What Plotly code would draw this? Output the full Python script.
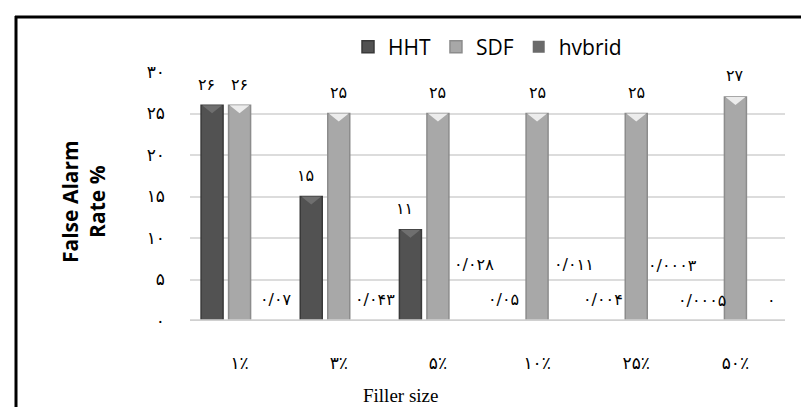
import plotly.graph_objects as go

# ---------------- data ----------------
categories = ["۱٪", "۳٪", "۵٪", "۱۰٪", "۲۵٪", "۵۰٪"]
hht = [26, 15, 11, 0.05, 0.004, 0.0005]
sdf = [26, 25, 25, 25, 25, 27]
hybrid = [0.07, 0.043, 0.028, 0.011, 0.0003, 0]
series_names = ["HHT", "SDF", "hvbrid"]
y_tickvals = [0, 5, 10, 15, 20, 25, 30]

# labels that are lifted to avoid overlap (style only)
hybrid_label_raised = [False, False, True, True, True, False]

# ---------------- helpers ----------------
FA = str.maketrans("0123456789.", "۰۱۲۳۴۵۶۷۸۹/")


def fa(v):
    return f"{v:g}".translate(FA)


W, H = 809, 407
L, R, T, B = 182, 32, 64, 94
PW, PH = W - L - R, H - T - B
Y_MAX = 30


def px_x(p):
    return (p - L) / PW


def px_y(p):
    return (H - B - p) / PH


BARGAP = 0.168
BARGROUPGAP = 0.2
slot = (1 - BARGAP) / 3
offsets = [-slot, 0.0, slot]
bar_w = slot * (1 - BARGROUPGAP)

colors = ["#525252", "#a8a8a8", "#6a6a6a"]
edges = ["#393939", "#8c8c8c", "#4a4a4a"]
tops = ["#6f6f6f", "#ececec", "#8a8a8a"]
xs = list(range(len(categories)))

fig = go.Figure()
shapes = []
units_per_px = Y_MAX / PH
for s, (name, vals) in enumerate(zip(series_names, [hht, sdf, hybrid])):
    fig.add_trace(go.Bar(
        x=xs, y=vals, name=name,
        marker=dict(color=colors[s],
                    line=dict(color=edges[s],
                              width=[1.5 if v > 1 else 0 for v in vals])),
        hoverinfo="skip",
    ))
    # bevelled top of each column (light triangle)
    for i, v in enumerate(vals):
        if v > 1:
            xc = i + offsets[s]
            x0, x1 = xc - bar_w / 2 + 0.01, xc + bar_w / 2 - 0.01
            ytip = v - 8 * units_per_px
            shapes.append(dict(
                type="path", xref="x", yref="y", layer="above",
                path=f"M{x0},{v} L{x1},{v} L{xc},{ytip} Z",
                fillcolor=tops[s], line=dict(width=0),
            ))

# baseline of the value axis, drawn over the columns' feet
shapes.append(dict(
    type="line", xref="paper", yref="y", layer="above",
    x0=0, x1=1, y0=0, y1=0,
    line=dict(color="#d0d0d0", width=3.5),
))

annotations = []
label_font = dict(family="DejaVu Sans", size=16, color="#000000")
series_xshift = [-6, 0, 9]
for s, vals in enumerate([hht, sdf, hybrid]):
    for i, v in enumerate(vals):
        raised = (s == 2 and hybrid_label_raised[i])
        annotations.append(dict(
            x=i + offsets[s], y=v, xref="x", yref="y",
            text=fa(v), showarrow=False, font=label_font,
            xanchor="center", yanchor="middle",
            yshift=56 if raised else 21,
            xshift=series_xshift[s],
        ))

# y axis title
annotations.append(dict(
    x=px_x(75), y=px_y(194), xref="paper", yref="paper",
    text="<b>False Alarm<br>Rate %</b>", textangle=-90, showarrow=False,
    font=dict(family="Open Sans", size=21, color="#000000"),
    xanchor="center", yanchor="middle",
))
# x axis title
annotations.append(dict(
    x=px_x(392), y=px_y(387), xref="paper", yref="paper",
    text="Filler size", showarrow=False,
    font=dict(family="Liberation Serif", size=19, color="#000000"),
    xanchor="center", yanchor="middle",
))

shapes += [
    dict(type="line", xref="paper", yref="paper",
         x0=px_x(8), x1=px_x(8), y0=px_y(8), y1=px_y(410),
         line=dict(color="#000000", width=3)),
    dict(type="line", xref="paper", yref="paper",
         x0=px_x(7), x1=px_x(812), y0=px_y(9), y1=px_y(9),
         line=dict(color="#000000", width=3)),
]

fig.update_layout(
    width=W, height=H,
    margin=dict(l=L, r=R, t=T, b=B),
    paper_bgcolor="#ffffff", plot_bgcolor="#ffffff",
    barmode="group", bargap=BARGAP, bargroupgap=BARGROUPGAP,
    showlegend=True,
    legend=dict(
        orientation="h", x=0.5, xanchor="center",
        y=px_y(39), yanchor="middle",
        font=dict(family="Open Sans", size=21, color="#000000"),
        bgcolor="rgba(0,0,0,0)", itemclick=False, itemwidth=30,
    ),
    xaxis=dict(
        range=[-0.5, len(categories) - 0.5],
        tickmode="array", tickvals=xs, ticktext=categories,
        showgrid=False, zeroline=False, showline=False,
        ticks="", ticklabelstandoff=30,
        tickfont=dict(family="DejaVu Sans", size=17, color="#000000"),
        fixedrange=True,
    ),
    yaxis=dict(
        range=[0, Y_MAX], tickmode="array", tickvals=y_tickvals,
        ticktext=[fa(v) for v in y_tickvals],
        showgrid=True, gridcolor="#dcdcdc", gridwidth=1.5,
        zeroline=False, showline=False, ticks="",
        ticklabelstandoff=24,
        tickfont=dict(family="DejaVu Sans", size=17, color="#000000"),
        fixedrange=True,
    ),
    annotations=annotations,
    shapes=shapes,
)

fig.write_html("out.html")
